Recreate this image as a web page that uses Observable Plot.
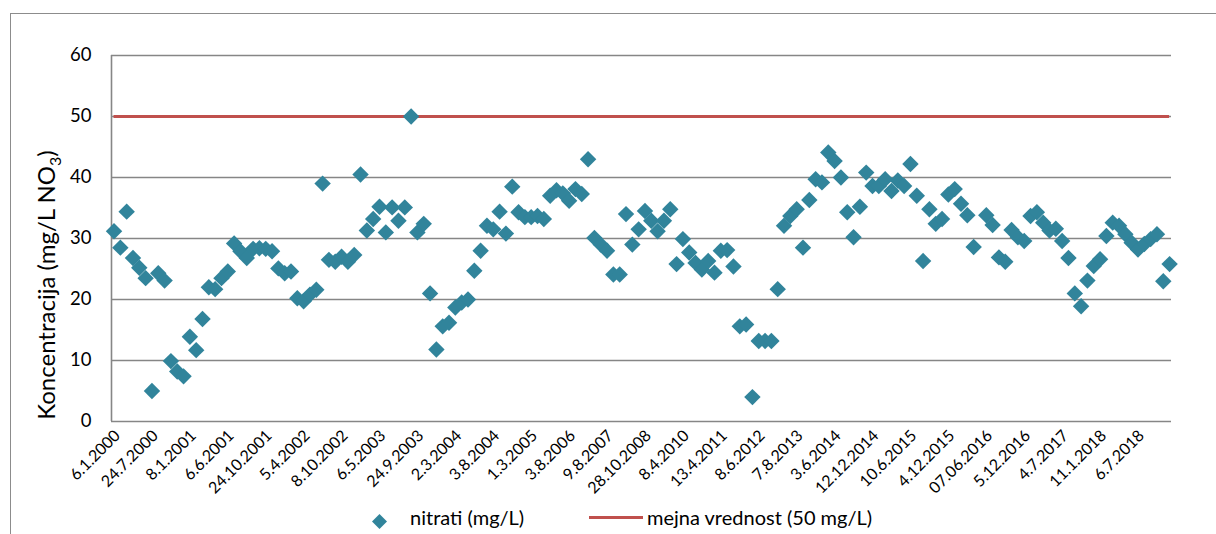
<!DOCTYPE html>
<html><head><meta charset="utf-8">
<script src="https://cdn.jsdelivr.net/npm/d3@7"></script>
<script src="https://cdn.jsdelivr.net/npm/@observablehq/plot@0.6"></script>
<style>
body{margin:0;background:#fff;font-family:Lato,"Open Sans",sans-serif;}
#wrap{position:relative;width:1216px;height:534px;overflow:hidden;background:#fff;}
#frame{position:absolute;left:10px;top:13px;width:1300px;height:600px;border:1.5px solid #8c8c8c;box-sizing:border-box;}
#chart{position:absolute;left:0;top:0;}
#legend{position:absolute;top:504px;left:0;width:1216px;height:28px;font-size:20px;color:#000;}
.li{position:absolute;top:0;line-height:26px;white-space:nowrap;}
</style></head>
<body><div id="wrap"><div id="frame"></div><div id="chart"></div><div id="legend"></div></div>
<script>
const tickLabels = ["6.1.2000","24.7.2000","8.1.2001","6.6.2001","24.10.2001","5.4.2002","8.10.2002","6.5.2003","24.9.2003","2.3.2004","3.8.2004","1.3.2005","3.8.2006","9.8.2007","28.10.2008","8.4.2010","13.4.2011","8.6.2012","7.8.2013","3.6.2014","12.12.2014","10.6.2015","4.12.2015","07.06.2016","5.12.2016","4.7.2017","11.1.2018","6.7.2018"];
const labelEvery = 6;
const nitrati = [
31.2,28.5,34.4,26.8,25.2,23.5,5.0,24.3,23.1,9.9,
8.2,7.4,13.9,11.7,16.8,22.0,21.7,23.5,24.6,29.2,
27.9,26.8,28.3,28.4,28.3,27.9,25.1,24.3,24.6,20.2,
19.7,20.8,21.6,39.0,26.5,26.2,27.0,26.2,27.3,40.5,
31.3,33.2,35.2,31.0,35.1,32.9,35.1,50.0,31.0,32.4,
21.0,11.8,15.6,16.2,18.7,19.5,20.0,24.7,28.0,32.1,
31.5,34.4,30.8,38.5,34.3,33.5,33.5,33.7,33.2,37.0,
37.9,37.4,36.2,38.1,37.3,43.0,30.1,29.0,28.0,24.1,
24.1,34.0,29.0,31.5,34.5,32.9,31.2,32.9,34.8,25.8,
29.9,27.7,26.0,24.9,26.3,24.4,28.0,28.1,25.4,15.6,
15.9,4.0,13.2,13.2,13.2,21.7,32.1,33.7,34.8,28.5,
36.3,39.7,39.2,44.1,42.7,40.0,34.3,30.2,35.2,40.8,
38.6,38.6,39.7,37.8,39.5,38.6,42.2,37.0,26.3,34.8,
32.4,33.2,37.2,38.1,35.7,33.8,28.6,null,33.8,32.2,
26.9,26.2,31.4,30.2,29.6,33.7,34.3,32.6,31.3,31.6,
29.6,26.8,21.0,18.9,23.1,25.5,26.6,30.4,32.6,32.1,
30.7,29.3,28.2,29.1,29.9,30.7,23.0,25.8];
const limitValue = 50;
const yTicks = [0,10,20,30,40,50,60];
const seriesNames = ["nitrati (mg/L)", "mejna vrednost (50 mg/L)"];
const colors = {nitrati:"#31849B", limit:"#C0504D", grid:"#868686"};

const pts = nitrati.map((v,i)=>({i, v})).filter(d=>d.v!=null);
const n = nitrati.length;
const xTicks = tickLabels.map((_,k)=>k*labelEvery);

const plot = Plot.plot({
  width:1216, height:500,
  marginLeft:111, marginRight:45, marginTop:55, marginBottom:79,
  style:{fontFamily:"Lato, 'Open Sans', sans-serif", background:"transparent", color:"#000", overflow:"visible"},
  x:{domain:[-0.4, n-1+0.3], axis:null},
  y:{domain:[0,60], axis:null},
  marks:[
    Plot.gridY(yTicks, {stroke:colors.grid, strokeOpacity:1, strokeWidth:1.6}),
    Plot.ruleX([-0.4], {y1:0, y2:60, stroke:colors.grid, strokeWidth:1.6}),
    Plot.axisY(yTicks, {tickSize:0, tickPadding:20, fontSize:18.5, label:null}),
    Plot.ruleY([limitValue], {x1:0, x2:n-1, stroke:colors.limit, strokeWidth:3}),
    Plot.dot(pts, {x:"i", y:"v", symbol:"diamond2", r:7.4, fill:colors.nitrati, stroke:"none"})
  ]
});
document.getElementById("chart").appendChild(plot);

const svg = d3.select(plot);
const xs = plot.scale("x"), ys = plot.scale("y");
const y0 = ys.apply(0);

// rotated category labels, drawn from the plot's own x scale
svg.append("g")
  .attr("font-size",16)
  .attr("fill","#000")
  .style("font-family","Lato, 'Open Sans', sans-serif")
  .selectAll("text").data(xTicks).join("text")
  .attr("text-anchor","end")
  .attr("dy","0.32em")
  .attr("transform", d => `translate(${xs.apply(d)+4},${y0+12}) rotate(-45)`)
  .text(d => tickLabels[d/labelEvery]);

// y-axis title with subscript
const t = svg.append("text")
  .attr("transform","translate(55,285) rotate(-90)")
  .attr("text-anchor","middle")
  .attr("font-size",24)
  .attr("fill","#000")
  .style("font-family","Lato, 'Open Sans', sans-serif");
t.append("tspan").text("Koncentracija (mg/L NO");
t.append("tspan").attr("font-size",16).attr("dy",6).text("3");
t.append("tspan").attr("dy",-6).text(")");

// legend
const lg = document.getElementById("legend");
lg.innerHTML =
  `<div class="li" style="left:371px;top:5px"><svg width="17" height="17"><polygon points="8.5,1 16,8.5 8.5,16 1,8.5" fill="${colors.nitrati}"/></svg></div>`+
  `<div class="li" style="left:410px">${seriesNames[0]}</div>`+
  `<div class="li" style="left:589px;top:12px;width:54px;height:3px;background:${colors.limit}"></div>`+
  `<div class="li" style="left:647px">${seriesNames[1]}</div>`;
</script>
</body></html>
